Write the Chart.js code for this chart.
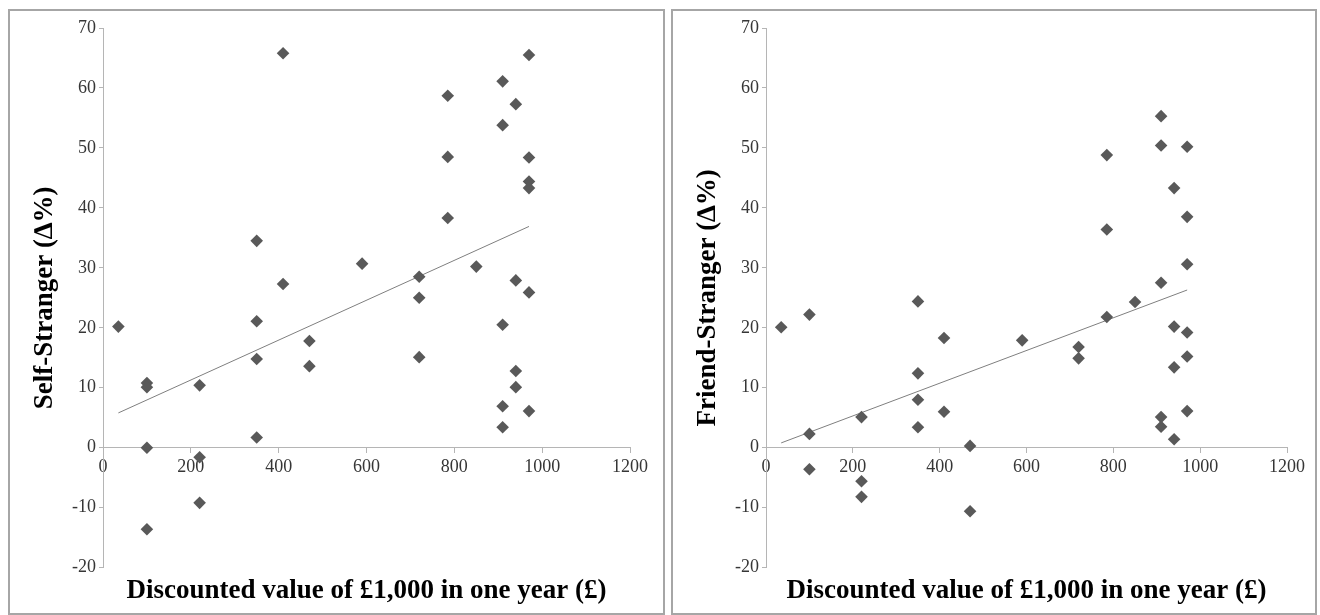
<!DOCTYPE html>
<html>
<head>
<meta charset="utf-8">
<script src="https://cdn.jsdelivr.net/npm/chart.js@4.4.1/dist/chart.umd.min.js"></script>
<style>
  body { margin: 0; background: #fff; width: 1320px; height: 615px; overflow: hidden; }
  .panel { position: absolute; border: 2px solid #a6a6a6; box-sizing: border-box; }
  .panel canvas { position: absolute; left: 0; top: 0; }
</style>
</head>
<body>
<div class="panel" id="p1" style="left:8px; top:9px; width:657px; height:606px;">
  <canvas id="selfChart" width="653" height="602"></canvas>
</div>
<div class="panel" id="p2" style="left:671px; top:9px; width:646px; height:606px;">
  <canvas id="friendChart" width="642" height="602"></canvas>
</div>
<script>
// discounted value of £1,000 in one year (x) and Δ% (y)
const selfX = [35, 100, 100, 100, 100, 220, 220, 220, 350, 350, 350, 350, 410, 410, 470, 470,
    590, 720, 720, 720, 785, 785, 785, 850, 910, 910, 910, 910, 910,
    940, 940, 940, 940, 970, 970, 970, 970, 970, 970];
const selfY = [20.2, 10.8, 10.1, 0, -13.6, 10.4, -1.6, -9.2, 34.5, 21.1, 14.8, 1.7, 65.8, 27.3, 17.8, 13.6,
    30.7, 28.5, 25.0, 15.1, 58.7, 48.5, 38.3, 30.2, 61.1, 53.8, 20.5, 6.9, 3.4,
    57.3, 27.9, 12.8, 10.1, 65.5, 48.4, 44.4, 43.3, 25.9, 6.1];

const friendX = [35, 100, 100, 100, 220, 220, 220, 350, 350, 350, 350, 410, 410, 470, 470,
    590, 720, 720, 785, 785, 785, 850, 910, 910, 910, 910, 910,
    940, 940, 940, 940, 970, 970, 970, 970, 970, 970];
const friendY = [20.1, 22.2, 2.3, -3.6, 5.1, -5.6, -8.2, 24.4, 12.4, 8.0, 3.4, 18.3, 6.0, 0.3, -10.6,
    17.9, 16.8, 14.9, 48.8, 36.4, 21.8, 24.3, 55.3, 50.4, 27.5, 5.1, 3.5,
    43.3, 20.2, 13.4, 1.4, 50.2, 38.5, 30.6, 19.2, 15.2, 6.1];

// linear trend line ends as drawn in the figure
const selfTrendX = [35, 970];
const selfTrendY = [5.8, 36.9];
const friendTrendX = [35, 970];
const friendTrendY = [0.8, 26.3];

const xTicks = [0, 200, 400, 600, 800, 1000, 1200];
const yTicks = [-20, -10, 0, 10, 20, 30, 40, 50, 60, 70];

const xTitle = 'Discounted value of £1,000 in one year (£)';

function pairs(xs, ys) {
    return xs.map((x, i) => ({ x: x, y: ys[i] }));
}

function makeChart(id, xs, ys, tx, ty, yTitle, rightPad) {
    const ctx = document.getElementById(id).getContext('2d');
    return new Chart(ctx, {
        type: 'scatter',
        data: {
            datasets: [{
                data: pairs(xs, ys),
                pointStyle: 'rectRot',
                pointRadius: 6.3,
                pointHoverRadius: 6.3,
                backgroundColor: '#595959',
                borderWidth: 0
            }, {
                data: pairs(tx, ty),
                showLine: true,
                pointRadius: 0,
                borderColor: '#7f7f7f',
                borderWidth: 1
            }]
        },
        options: {
            responsive: false,
            animation: false,
            layout: { padding: { left: 0, top: 17, right: rightPad, bottom: 0 } },
            plugins: {
                legend: { display: false },
                tooltip: { enabled: false },
                title: {
                    display: true,
                    position: 'bottom',
                    fullSize: false,
                    text: xTitle,
                    color: '#000',
                    font: { family: 'Liberation Serif', size: 27, weight: 'bold' },
                    padding: { top: 7, bottom: 6 }
                }
            },
            scales: {
                x: {
                    type: 'linear',
                    position: { y: 0 },
                    min: 0, max: 1200,
                    afterBuildTicks: s => { s.ticks = xTicks.map(v => ({ value: v })); },
                    afterFit: s => { s.height = 0; },
                    border: { color: '#b5b5b5', width: 1 },
                    grid: { drawOnChartArea: false, tickLength: 5, color: '#b5b5b5' },
                    ticks: {
                        color: '#363636',
                        padding: 4,
                        maxRotation: 0,
                        callback: v => String(v),
                        font: { family: 'Liberation Serif', size: 18 }
                    }
                },
                y: {
                    min: -20, max: 70,
                    afterBuildTicks: s => { s.ticks = yTicks.map(v => ({ value: v })); },
                    afterFit: s => { s.width = 93; },
                    border: { color: '#b5b5b5', width: 1 },
                    grid: { drawOnChartArea: false, tickLength: 4, color: '#b5b5b5' },
                    ticks: {
                        color: '#363636',
                        padding: 3,
                        font: { family: 'Liberation Serif', size: 18 }
                    },
                    title: {
                        display: true,
                        text: yTitle,
                        color: '#000',
                        font: { family: 'Liberation Serif', size: 27, weight: 'bold' },
                        padding: { top: 19, bottom: 0 }
                    }
                }
            }
        }
    });
}

makeChart('selfChart', selfX, selfY, selfTrendX, selfTrendY, 'Self-Stranger (∆%)', 33);
makeChart('friendChart', friendX, friendY, friendTrendX, friendTrendY, 'Friend-Stranger (∆%)', 28);
</script>
</body>
</html>
